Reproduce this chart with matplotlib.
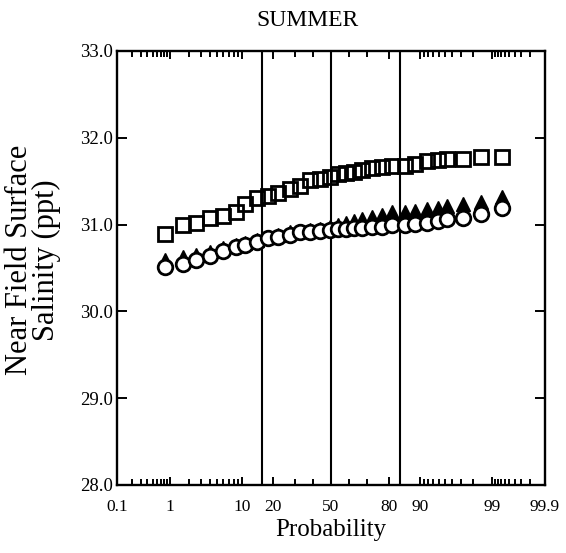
import numpy as np
import matplotlib
matplotlib.use("Agg")
import matplotlib.pyplot as plt
from matplotlib.ticker import FixedLocator, FixedFormatter, FormatStrFormatter
from statistics import NormalDist

_nd = NormalDist()

# Cumulative probability (%) of each ranked observation
probability = [0.83, 1.63, 2.57, 4.04, 5.96, 8.52, 10.7, 14.3, 18.2, 22.2,
               27.7, 32.7, 38.1, 43.7, 49.4, 54.0, 58.6, 63.0, 67.3, 72.3,
               76.9, 81.1, 85.7, 88.7, 91.7, 93.9, 95.3, 97.2, 98.5, 99.32]

# Near-field surface salinity (ppt), three series
salinity_squares = [30.89, 31.00, 31.02, 31.08, 31.10, 31.15, 31.24, 31.31, 31.33, 31.36,
                    31.41, 31.45, 31.51, 31.53, 31.55, 31.58, 31.60, 31.61, 31.63, 31.65,
                    31.66, 31.67, 31.68, 31.70, 31.73, 31.74, 31.76, 31.76, 31.78, 31.78]
salinity_circles = [30.51, 30.55, 30.59, 30.64, 30.70, 30.74, 30.77, 30.80, 30.84, 30.86,
                    30.88, 30.91, 30.92, 30.93, 30.94, 30.95, 30.95, 30.96, 30.96, 30.97,
                    30.97, 30.99, 31.00, 31.01, 31.02, 31.04, 31.07, 31.08, 31.12, 31.19]
salinity_triangles = [30.59, 30.63, 30.65, 30.69, 30.73, 30.77, 30.79, 30.82, 30.86, 30.88,
                      30.91, 30.93, 30.94, 30.95, 30.97, 31.00, 31.02, 31.04, 31.07, 31.09,
                      31.11, 31.14, 31.15, 31.16, 31.18, 31.19, 31.21, 31.24, 31.26, 31.32]

prob_labels = [0.1, 1, 10, 20, 50, 80, 90, 99, 99.9]
prob_minor = ([0.2, 0.3, 0.4, 0.5, 0.6, 0.7, 0.8, 0.9]
              + [2, 3, 4, 5, 6, 7, 8, 9]
              + [30, 40, 60, 70]
              + [91, 92, 93, 94, 95, 96, 97, 98]
              + [99.1, 99.2, 99.3, 99.4, 99.5, 99.6, 99.7, 99.8])
y_ticks = [28.0, 29.0, 30.0, 31.0, 32.0, 33.0]


def _to_z(p):
    p = np.clip(np.asarray(p, dtype=float), 1e-6, 100 - 1e-6)
    return np.vectorize(lambda v: _nd.inv_cdf(v / 100.0))(p)


def _to_p(z):
    z = np.asarray(z, dtype=float)
    return np.vectorize(lambda v: 100.0 * _nd.cdf(v))(z)


plt.rcParams["font.family"] = ["Liberation Serif", "DejaVu Serif"]

fig = plt.figure(figsize=(5.66, 5.53), dpi=100)
ax = fig.add_axes([117 / 566, 1 - 485 / 553, 428 / 566, 434 / 553])
ax.set_xscale("function", functions=(_to_z, _to_p))
ax.set_xlim(0.1, 99.9)
ax.set_ylim(28.0, 33.0)

# Reference lines at the mean and one standard deviation either side
for zline in (-1.0, 0.0, 1.0):
    ax.axvline(100.0 * _nd.cdf(zline), color="black", lw=1.5, zorder=1)

ms = 10.5
ax.plot(probability, salinity_squares, ls="none", marker="s", ms=ms,
        mfc="none", mec="black", mew=2.0, zorder=3)
ax.plot(probability, salinity_triangles, ls="none", marker="^", ms=ms,
        mfc="black", mec="black", mew=1.0, zorder=3)
ax.plot(probability, salinity_circles, ls="none", marker="o", ms=ms,
        mfc="white", mec="black", mew=2.0, zorder=4)

ax.xaxis.set_major_locator(FixedLocator(prob_labels))
ax.xaxis.set_major_formatter(FixedFormatter([f"{v:g}" for v in prob_labels]))
ax.xaxis.set_minor_locator(FixedLocator(prob_minor))
ax.yaxis.set_major_locator(FixedLocator(y_ticks))
ax.yaxis.set_major_formatter(FormatStrFormatter("%.1f"))

ax.tick_params(axis="both", which="both", direction="in", top=True, right=True,
               width=1.4, colors="black")
ax.tick_params(axis="x", which="major", length=6, labelsize=12.5, pad=10)
ax.tick_params(axis="x", which="minor", length=4)
ax.tick_params(axis="y", which="major", length=7, labelsize=13.5, pad=3)
for s in ax.spines.values():
    s.set_linewidth(1.7)

ax.set_xlabel("Probability", fontsize=18)
ax.xaxis.set_label_coords(0.5, -34 / 434, transform=ax.transAxes)
fig.text(33 / 566, 1 - 260 / 553, "Near Field Surface\nSalinity (ppt)",
         rotation=90, ha="center", va="center", multialignment="center",
         fontsize=22, linespacing=0.95)
fig.text(308 / 566, 1 - 20 / 553, "SUMMER", ha="center", va="center", fontsize=17)

fig.savefig("out.png", dpi=100)
